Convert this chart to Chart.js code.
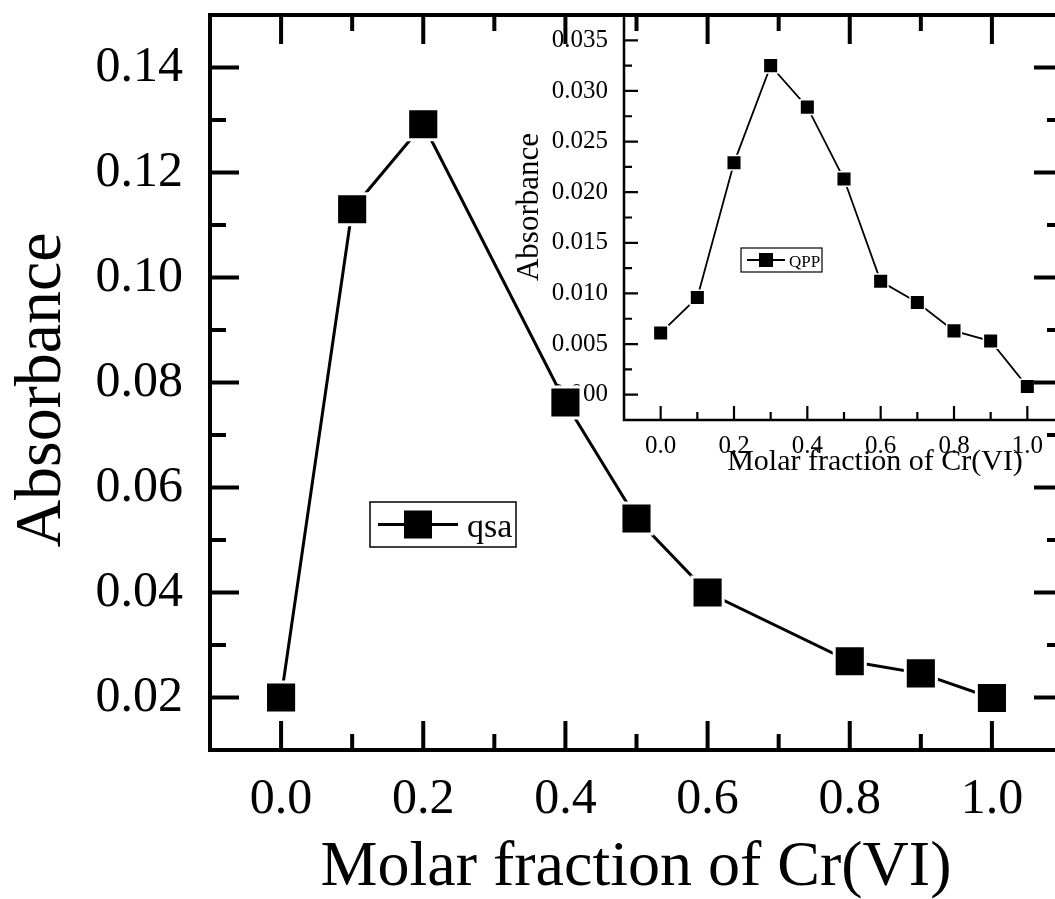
<!DOCTYPE html>
<html>
<head>
<meta charset="utf-8">
<script src="https://cdn.jsdelivr.net/npm/chart.js@4.4.1/dist/chart.umd.min.js"></script>
<style>
  html, body { margin: 0; padding: 0; background: #fff; overflow: hidden; }
  #wrap { position: relative; width: 1055px; height: 899px; overflow: hidden; }
  #inset { position: absolute; left: 500px; top: 0; }
  #main { position: absolute; left: 0; top: 0; }
</style>
</head>
<body>
<div id="wrap">
  <canvas id="inset" width="570" height="490"></canvas>
  <canvas id="main" width="1070" height="899"></canvas>
</div>
<script>
// qsa (main plot)
var qsaX = [0.0, 0.1, 0.2, 0.4, 0.5, 0.6, 0.8, 0.9, 1.0];
var qsaY = [0.0200, 0.1130, 0.1292, 0.0762, 0.0541, 0.0400, 0.0269, 0.0246, 0.0199];

// QPP (inset)
var qppX = [0.0, 0.1, 0.2, 0.3, 0.4, 0.5, 0.6, 0.7, 0.8, 0.9, 1.0];
var qppY = [0.0061, 0.0096, 0.0229, 0.0325, 0.0284, 0.0213, 0.0112, 0.0091, 0.0063, 0.0053, 0.0008];

// ticks
var xMajor = [0.0, 0.2, 0.4, 0.6, 0.8, 1.0];
var xMinor = [0.1, 0.3, 0.5, 0.7, 0.9];
var mainYMajor = [0.02, 0.04, 0.06, 0.08, 0.10, 0.12, 0.14];
var mainYMinor = [0.03, 0.05, 0.07, 0.09, 0.11, 0.13];
var insetYMajor = [0.000, 0.005, 0.010, 0.015, 0.020, 0.025, 0.030, 0.035];
var insetYMinor = [0.0025, 0.0075, 0.0125, 0.0175, 0.0225, 0.0275, 0.0325];

var xTitle = 'Molar fraction of Cr(VI)';
var yTitle = 'Absorbance';
var serif = 'Liberation Serif';

function points(xs, ys) {
  return xs.map(function(v, i) { return {x: v, y: ys[i]}; });
}

// origin-style axes: frame + inward ticks
var axisFrame = {
  id: 'axisFrame',
  afterDatasetsDraw: function(chart, args, o) {
    var ctx = chart.ctx, a = chart.chartArea;
    var sx = chart.scales.x, sy = chart.scales.y;
    ctx.save();
    ctx.strokeStyle = '#000';
    ctx.lineWidth = o.tickWidth;
    ctx.beginPath();
    function xt(vals, len) {
      vals.forEach(function(v) {
        var px = sx.getPixelForValue(v);
        ctx.moveTo(px, a.bottom); ctx.lineTo(px, a.bottom - len);
        if (o.mirror) { ctx.moveTo(px, a.top); ctx.lineTo(px, a.top + len); }
      });
    }
    function yt(vals, len) {
      vals.forEach(function(v) {
        var py = sy.getPixelForValue(v);
        ctx.moveTo(a.left, py); ctx.lineTo(a.left + len, py);
        if (o.mirror) { ctx.moveTo(a.right, py); ctx.lineTo(a.right - len, py); }
      });
    }
    xt(o.xMajor, o.major); xt(o.xMinor, o.minor);
    yt(o.yMajor, o.major); yt(o.yMinor, o.minor);
    ctx.stroke();
    ctx.lineWidth = o.frameWidth;
    ctx.beginPath();
    if (o.mirror) {
      ctx.rect(a.left, a.top, a.right - a.left, a.bottom - a.top);
    } else {
      ctx.moveTo(a.left, a.top); ctx.lineTo(a.left, a.bottom); ctx.lineTo(a.right, a.bottom);
    }
    ctx.stroke();
    ctx.restore();
  }
};

// boxed legend: line + square marker + label
var boxLegend = {
  id: 'boxLegend',
  afterDatasetsDraw: function(chart, args, o) {
    var ctx = chart.ctx, a = chart.chartArea, ds = chart.data.datasets[0];
    var x = a.left + o.left, y = a.top + o.top, cy = y + o.height / 2;
    ctx.save();
    ctx.strokeStyle = '#000';
    ctx.fillStyle = '#000';
    ctx.lineWidth = o.borderWidth;
    ctx.strokeRect(x, y, o.width, o.height);
    ctx.lineWidth = ds.borderWidth;
    ctx.beginPath();
    ctx.moveTo(x + o.lineStart, cy);
    ctx.lineTo(x + o.lineStart + o.lineLength, cy);
    ctx.stroke();
    var mx = x + o.lineStart + o.lineLength / 2;
    ctx.fillRect(mx - o.marker / 2, cy - o.marker / 2, o.marker, o.marker);
    ctx.font = o.fontSize + 'px "' + serif + '"';
    ctx.textBaseline = 'alphabetic';
    ctx.fillText(ds.label, x + o.textX, y + o.baseline);
    ctx.restore();
  }
};

// axis names, placed from the chart area
var axisNames = {
  id: 'axisNames',
  afterDraw: function(chart, args, o) {
    var ctx = chart.ctx, a = chart.chartArea;
    ctx.save();
    ctx.fillStyle = '#000';
    ctx.textAlign = 'center';
    ctx.textBaseline = 'alphabetic';
    ctx.font = o.xSize + 'px "' + serif + '"';
    ctx.fillText(xTitle, a.left + o.xdx, a.bottom + o.xdy);
    ctx.translate(a.left + o.ydx, a.top + o.ydy);
    ctx.rotate(-Math.PI / 2);
    ctx.font = o.ySize + 'px "' + serif + '"';
    ctx.fillText(yTitle, 0, 0);
    ctx.restore();
  }
};

function scales(cfg) {
  return {
    x: {
      type: 'linear', min: -0.1, max: 1.1,
      grid: {display: false, drawTicks: false}, border: {display: false},
      afterBuildTicks: function(s) { s.ticks = xMajor.map(function(v) { return {value: v}; }); },
      afterFit: function(s) { s.height = cfg.xHeight; s.paddingLeft = 0; s.paddingRight = 0; },
      ticks: {
        color: '#000', font: {family: serif, size: cfg.tickSize}, padding: cfg.xPad,
        maxRotation: 0, autoSkip: false,
        callback: function(v) { return v.toFixed(1); }
      }
    },
    y: {
      type: 'linear', min: cfg.yMin, max: cfg.yMax,
      grid: {display: false, drawTicks: false}, border: {display: false},
      afterBuildTicks: function(s) { s.ticks = cfg.yMajor.map(function(v) { return {value: v}; }); },
      afterFit: function(s) { s.width = cfg.yWidth; s.paddingTop = 0; s.paddingBottom = 0; },
      ticks: {
        color: '#000', font: {family: serif, size: cfg.tickSize}, padding: cfg.yPad,
        autoSkip: false,
        callback: function(v) { return v.toFixed(cfg.yDigits); }
      }
    }
  };
}

// inset (drawn underneath)
new Chart(document.getElementById('inset'), {
  type: 'line',
  data: {
    datasets: [{
      label: 'QPP',
      data: points(qppX, qppY),
      borderColor: '#000', borderWidth: 1.8, tension: 0,
      pointStyle: 'rect', pointRadius: 10.3,
      pointBackgroundColor: '#000', pointBorderColor: '#fff', pointBorderWidth: 1.5
    }]
  },
  options: {
    responsive: false, animation: false, devicePixelRatio: 1,
    layout: {autoPadding: false, padding: {top: 15, right: 6, left: 0, bottom: 0}},
    plugins: {
      legend: {display: false}, tooltip: {enabled: false},
      axisFrame: {xMajor: xMajor, xMinor: xMinor, yMajor: insetYMajor, yMinor: insetYMinor,
                  major: 14, minor: 8, tickWidth: 2.2, frameWidth: 2.5, mirror: false},
      boxLegend: {left: 117, top: 233, width: 81, height: 24, borderWidth: 1.2,
                  lineStart: 6, lineLength: 38, marker: 14, textX: 48, baseline: 19, fontSize: 17},
      axisNames: {xSize: 30, xdx: 251, xdy: 50, ySize: 31, ydx: -86, ydy: 192}
    },
    scales: scales({xHeight: 70, yWidth: 124, tickSize: 25, xPad: 11, yPad: 16,
                    yMin: -0.0025, yMax: 0.0375, yMajor: insetYMajor, yDigits: 3})
  },
  plugins: [axisFrame, boxLegend, axisNames]
});

// main plot
new Chart(document.getElementById('main'), {
  type: 'line',
  data: {
    datasets: [{
      label: 'qsa',
      data: points(qsaX, qsaY),
      borderColor: '#000', borderWidth: 3, tension: 0,
      pointStyle: 'rect', pointRadius: 22,
      pointBackgroundColor: '#000', pointBorderColor: '#fff', pointBorderWidth: 3
    }]
  },
  options: {
    responsive: false, animation: false, devicePixelRatio: 1,
    layout: {autoPadding: false, padding: {top: 15, right: 7, left: 0, bottom: 0}},
    plugins: {
      legend: {display: false}, tooltip: {enabled: false},
      axisFrame: {xMajor: xMajor, xMinor: xMinor, yMajor: mainYMajor, yMinor: mainYMinor,
                  major: 29, minor: 16, tickWidth: 4, frameWidth: 4, mirror: true},
      boxLegend: {left: 160, top: 487, width: 146, height: 45, borderWidth: 1.5,
                  lineStart: 8, lineLength: 80, marker: 28, textX: 97, baseline: 35, fontSize: 34},
      axisNames: {xSize: 64, xdx: 426, xdy: 135, ySize: 66, ydx: -150, ydy: 375}
    },
    scales: scales({xHeight: 149, yWidth: 210, tickSize: 50, xPad: 20, yPad: 27,
                    yMin: 0.01, yMax: 0.15, yMajor: mainYMajor, yDigits: 2})
  },
  plugins: [axisFrame, boxLegend, axisNames]
});
</script>
</body>
</html>
